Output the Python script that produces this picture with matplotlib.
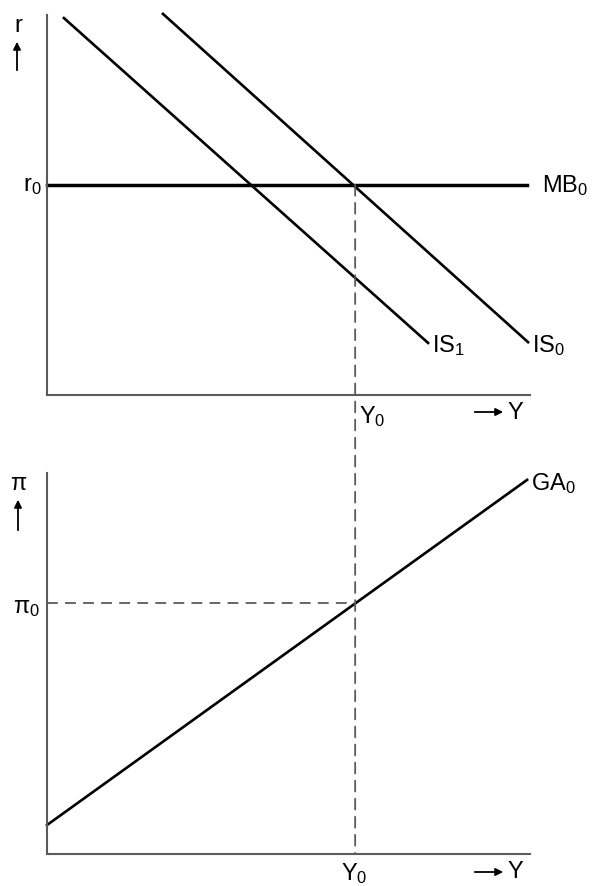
import numpy as np
import matplotlib
matplotlib.use('Agg')
import matplotlib.pyplot as plt
from matplotlib.patches import ConnectionPatch, FancyArrowPatch

plt.rcParams['font.family'] = ['Liberation Sans', 'DejaVu Sans']
plt.rcParams['mathtext.fontset'] = 'custom'
plt.rcParams['mathtext.rm'] = 'Liberation Sans'
plt.rcParams['mathtext.it'] = 'Liberation Sans'

# Equilibrium values (axes run 0..10)
Y0 = 6.38
r0 = 5.53
pi0 = 6.59

# top panel curves
is1_x = [0.35, 7.89]
is1_y = [9.92, 1.37]
is0_x = [2.40, 9.96]
is0_y = [10.03, 1.39]
mb0_x = [0.0, 9.94]

# bottom panel curve
ga0_x = [0.0, 9.94]
ga0_y = [0.76, 9.82]

W, H = 592, 886
fig = plt.figure(figsize=(W / 100, H / 100), dpi=100)

def px(x, y):
    # pixel position -> figure fraction
    return x / W, 1 - y / H

def make_ax(top, bottom):
    ax = fig.add_axes([47 / W, 1 - bottom / H, 483 / W, (bottom - top) / H])
    ax.set_xlim(0, 10)
    ax.set_ylim(0, 10)
    for s in ['top', 'right']:
        ax.spines[s].set_visible(False)
    for s in ['left', 'bottom']:
        ax.spines[s].set_color('#5a5a5a')
        ax.spines[s].set_linewidth(1.5)
    ax.set_xticks([])
    ax.set_yticks([])
    ax.patch.set_alpha(0)
    return ax

ax1 = make_ax(15, 395)
ax2 = make_ax(473, 854)

# --- top panel ---
ax1.plot(is1_x, is1_y, color='black', lw=1.9, clip_on=False)
ax1.plot(is0_x, is0_y, color='black', lw=1.9, clip_on=False)
ax1.plot(mb0_x, [r0, r0], color='black', lw=2.5, clip_on=False)

# --- bottom panel ---
ax2.plot(ga0_x, ga0_y, color='black', lw=1.9, clip_on=False)
ax2.plot([0, Y0], [pi0, pi0], color='#5a5a5a', lw=1.3, ls=(0, (6, 4)))

# dashed line running from the top intersection down to the bottom axis
con = ConnectionPatch(xyA=(Y0, r0), coordsA=ax1.transData,
                      xyB=(Y0, 0), coordsB=ax2.transData,
                      color='#5a5a5a', lw=1.3, ls=(0, (6, 4)))
fig.add_artist(con)

fs = 17
# labels
fig.text(*px(18, 26), 'r', fontsize=fs, ha='center', va='center')
fig.text(*px(42, 186), r'$\mathrm{r}_0$', fontsize=fs, ha='right', va='center')
fig.text(*px(542, 186), r'$\mathrm{MB}_0$', fontsize=fs, ha='left', va='center')
fig.text(*px(432, 346), r'$\mathrm{IS}_1$', fontsize=fs, ha='left', va='center')
fig.text(*px(532, 346), r'$\mathrm{IS}_0$', fontsize=fs, ha='left', va='center')
fig.text(*px(359, 417), r'$\mathrm{Y}_0$', fontsize=fs, ha='left', va='center')
fig.text(*px(507, 413), 'Y', fontsize=fs, ha='left', va='center')
fig.text(*px(531, 484), r'$\mathrm{GA}_0$', fontsize=fs, ha='left', va='center')
fig.text(*px(18, 484), 'π', fontsize=fs, ha='center', va='center')
fig.text(*px(40, 608), r'$\mathrm{π}_0$', fontsize=fs, ha='right', va='center')
fig.text(*px(341, 861), r'$\mathrm{Y}_0$', fontsize=fs, ha='left', va='top')
fig.text(*px(507, 872), 'Y', fontsize=fs, ha='left', va='center')

# little arrows beside the axis names
arrow = dict(arrowstyle='-|>', color='black', lw=1.3, mutation_scale=11)
for a, b in [((17, 73), (17, 39)), ((18, 533), (18, 497)),
             ((472, 412), (506, 412)), ((472, 872), (506, 872))]:
    fig.add_artist(FancyArrowPatch(px(*a), px(*b),
                                   transform=fig.transFigure, **arrow))

fig.savefig('out.png', dpi=100)
